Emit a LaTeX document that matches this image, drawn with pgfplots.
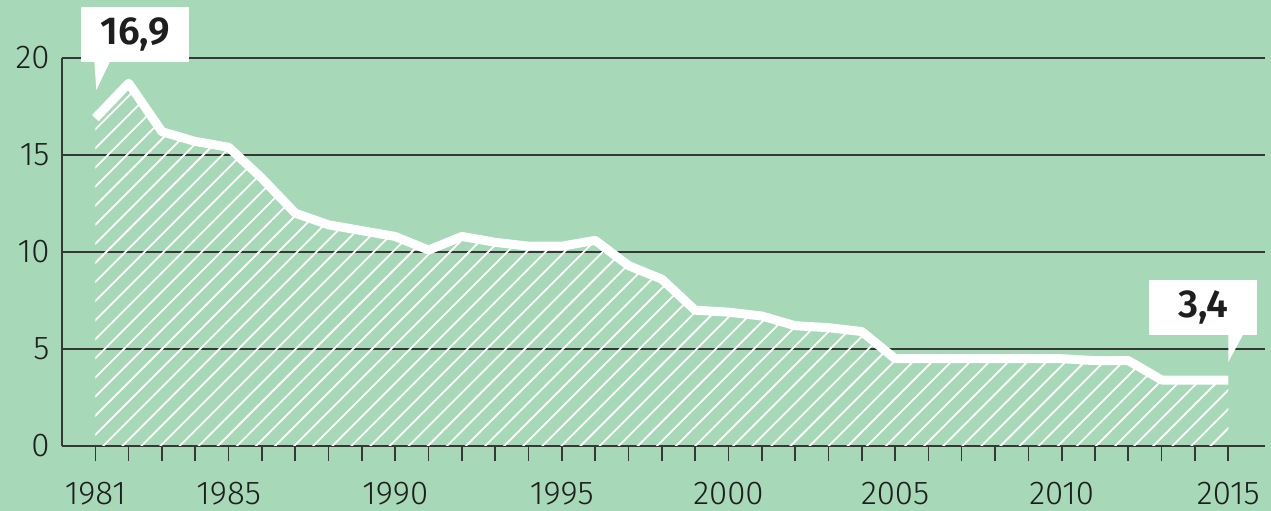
\documentclass[border=0pt]{standalone}
\usepackage{pgfplots}
\pgfplotsset{compat=1.18}
\usepackage{fontspec}
\setmainfont{Fira Sans}[UprightFont={* Light}, BoldFont={* SemiBold}]
\usetikzlibrary{patterns.meta}
\definecolor{bg}{RGB}{167,216,183}
\definecolor{gridc}{RGB}{55,55,55}
\definecolor{txt}{RGB}{30,30,30}
\begin{document}
\begin{tikzpicture}[x=1pt,y=1pt]
\fill[bg] (0,0) rectangle (1271,511);
\begin{axis}[
  at={(62pt,65pt)}, anchor=south west,
  scale only axis, width=1203pt, height=388pt,
  xmin=1980, xmax=2016.1, ymin=0, ymax=20,
  axis x line*=bottom, axis y line*=left,
  axis line style={gridc, line width=1.6pt},
  ymajorgrids, grid style={gridc, line width=1.6pt},
  ytick={0,5,10,15,20},
  xtick={1981,1985,1990,1995,2000,2005,2010,2015},
  minor xtick={1981,...,2015},
  xtick align=outside,
  major tick length=15pt, minor tick length=15pt,
  x tick style={gridc, line width=1.6pt},
  y tick style={draw=none},
  tick label style={font=\fontsize{33}{38}\selectfont, text=txt},
  /pgf/number format/assume math mode=true,
  /pgf/number format/1000 sep={},
  xticklabel style={inner sep=1pt, yshift=-20pt},
  yticklabel style={xshift=-9pt},
  clip=false,
]
\addplot[draw=none, pattern={Lines[angle=45,distance=13.5pt,line width=1.8pt]}, pattern color=white] coordinates {
(1981,16.9) (1982,18.7) (1983,16.2) (1984,15.7) (1985,15.4) (1986,13.8) (1987,12.0) (1988,11.4) (1989,11.1) (1990,10.8)
(1991,10.1) (1992,10.8) (1993,10.5) (1994,10.3) (1995,10.3) (1996,10.6) (1997,9.3) (1998,8.6) (1999,7.0) (2000,6.9)
(2001,6.7) (2002,6.2) (2003,6.1) (2004,5.9) (2005,4.5) (2006,4.5) (2007,4.5) (2008,4.5) (2009,4.5) (2010,4.5)
(2011,4.4) (2012,4.4) (2013,3.4) (2014,3.4) (2015,3.4)
} \closedcycle;
\addplot[white, line width=9pt, line join=round] coordinates {
(1981,16.9) (1982,18.7) (1983,16.2) (1984,15.7) (1985,15.4) (1986,13.8) (1987,12.0) (1988,11.4) (1989,11.1) (1990,10.8)
(1991,10.1) (1992,10.8) (1993,10.5) (1994,10.3) (1995,10.3) (1996,10.6) (1997,9.3) (1998,8.6) (1999,7.0) (2000,6.9)
(2001,6.7) (2002,6.2) (2003,6.1) (2004,5.9) (2005,4.5) (2006,4.5) (2007,4.5) (2008,4.5) (2009,4.5) (2010,4.5)
(2011,4.4) (2012,4.4) (2013,3.4) (2014,3.4) (2015,3.4)
};
\fill[white] (axis cs:1980.58,19.79) rectangle (axis cs:1983.82,22.63);
\fill[white] (axis cs:1980.97,19.85) -- (axis cs:1981.45,19.85) -- (axis cs:1981.03,18.35) -- cycle;
\node[font=\bfseries\fontsize{39}{44}\selectfont, text=txt] at (axis cs:1982.2,21.21) {16,9};
\fill[white] (axis cs:2012.63,5.72) rectangle (axis cs:2015.87,8.56);
\fill[white] (axis cs:2015,5.77) -- (axis cs:2015.45,5.77) -- (axis cs:2015,4.33) -- cycle;
\node[font=\bfseries\fontsize{39}{44}\selectfont, text=txt] at (axis cs:2014.25,7.14) {3,4};
\end{axis}
\end{tikzpicture}
\end{document}
